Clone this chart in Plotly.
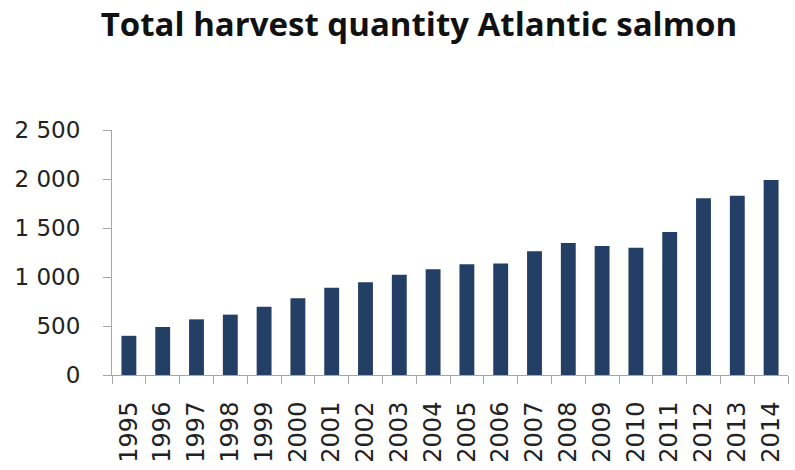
import plotly.graph_objects as go

years = [str(y) for y in range(1995, 2015)]
harvest = [400, 490, 568, 616, 697, 782, 891, 946, 1024, 1078,
           1129, 1139, 1262, 1347, 1316, 1299, 1459, 1803, 1830, 1990]

y_tickvals = [0, 500, 1000, 1500, 2000, 2500]
y_ticktext = ["0", "500", "1 000", "1 500", "2 000", "2 500"]

title_text = "Total harvest quantity Atlantic salmon"

fig = go.Figure(go.Bar(
    x=years, y=harvest,
    marker=dict(color="#243f66", line=dict(width=0)),
))

fig.update_layout(
    width=795, height=470,
    margin=dict(l=112, r=7, t=130, b=95),
    paper_bgcolor="white", plot_bgcolor="white",
    bargap=0.56,
    showlegend=False,
    title=dict(text="<b>" + title_text + "</b>", x=0.527, xref="container", xanchor="center",
               y=1 - 24 / 470, yref="container", yanchor="middle",
               font=dict(family="Open Sans", size=33, color="#111111")),
)

fig.update_xaxes(
    type="category", tickangle=-90,
    showline=True, linecolor="#a6a6a6", linewidth=1,
    ticks="outside", tickson="boundaries", ticklen=8, tickcolor="#a6a6a6",
    tickfont=dict(family="DejaVu Sans", size=24, color="#222222"),
    ticklabelstandoff=16,
    showgrid=False,
)
fig.update_yaxes(
    range=[0, 2500], tickvals=y_tickvals, ticktext=y_ticktext,
    showline=True, linecolor="#a6a6a6", linewidth=1,
    ticks="outside", ticklen=8, tickcolor="#a6a6a6",
    tickfont=dict(family="DejaVu Sans", size=23, color="#222222"),
    ticklabelstandoff=18,
    showgrid=False, zeroline=False,
)

fig.write_html("out.html")
